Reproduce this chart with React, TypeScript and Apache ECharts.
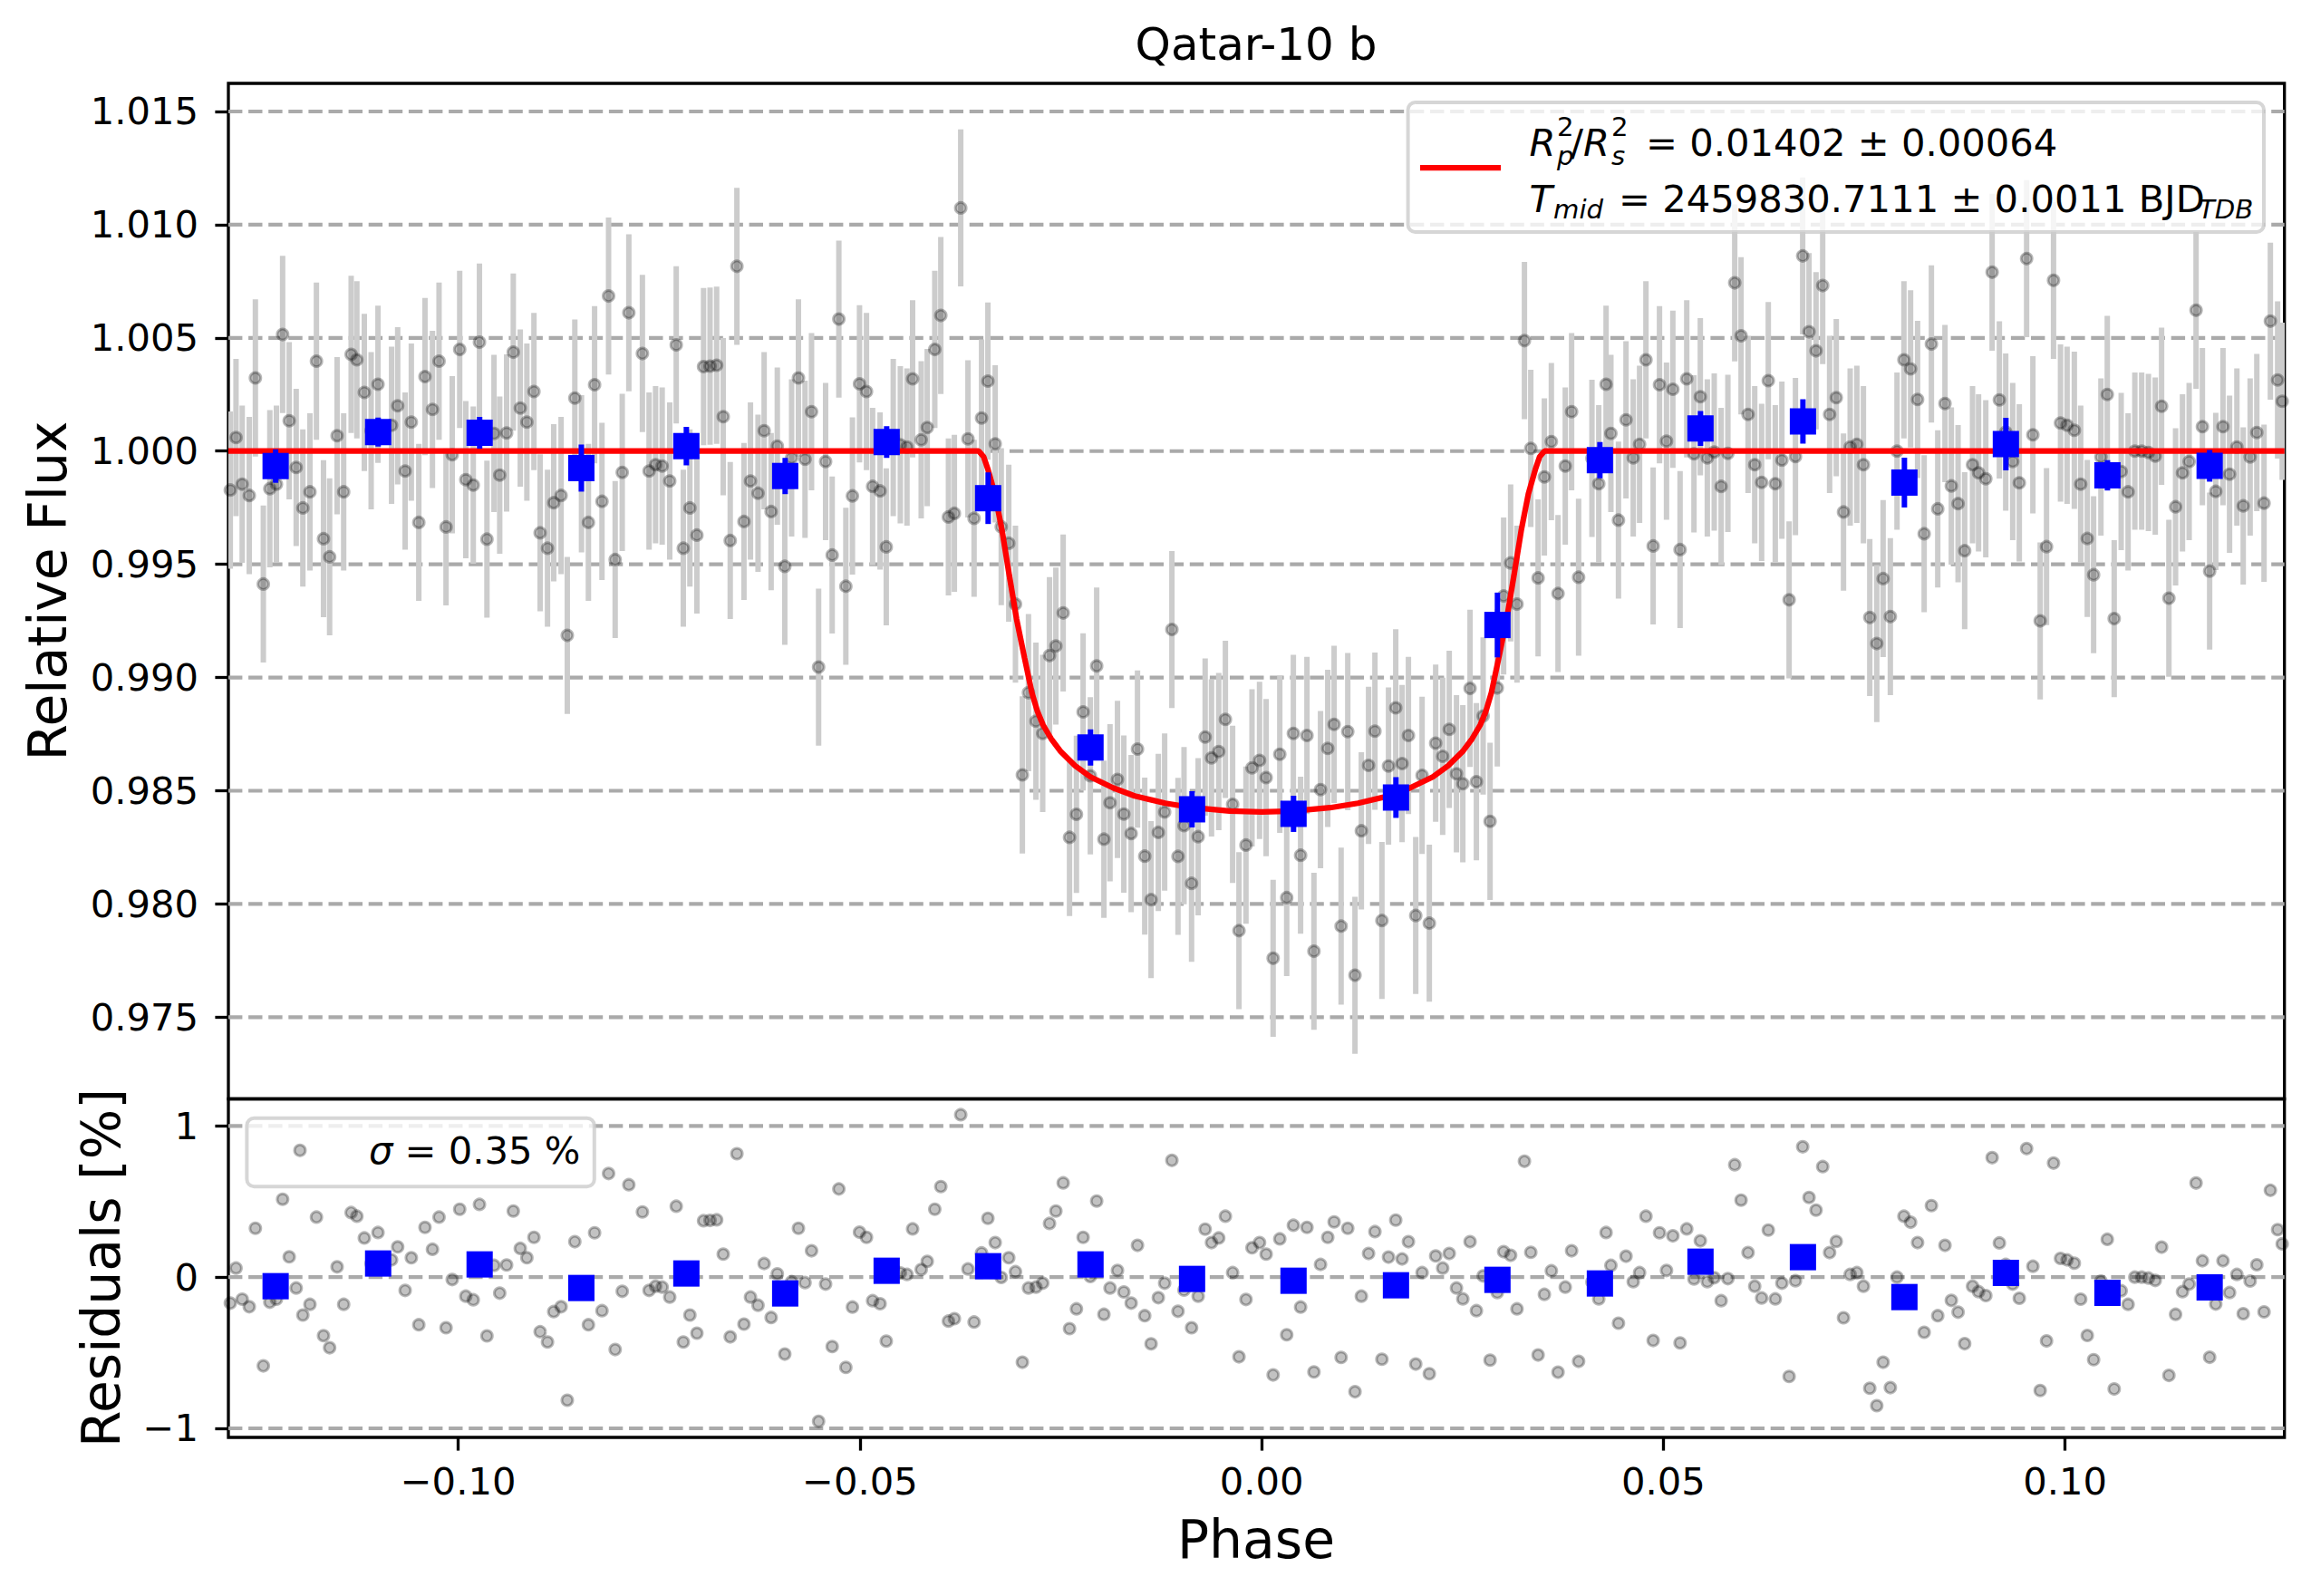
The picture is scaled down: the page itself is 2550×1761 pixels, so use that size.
import { useEffect, useRef } from 'react';
import * as echarts from 'echarts';

// unbinned light curve: phase, relative flux, residuals [%]
const phase = [
  -0.12836, -0.12765, -0.12688, -0.12600, -0.12524, -0.12425, -0.12344, -0.12262, -0.12185, -0.12103,
  -0.12016, -0.11933, -0.11845, -0.11764, -0.11676, -0.11600, -0.11507, -0.11425, -0.11332, -0.11261,
  -0.11168, -0.11083, -0.10998, -0.10829, -0.10753, -0.10660, -0.10583, -0.10490, -0.10413, -0.10320,
  -0.10238, -0.10151, -0.10074, -0.09981, -0.09905, -0.09812, -0.09735, -0.09642, -0.09554, -0.09483,
  -0.09397, -0.09314, -0.09227, -0.09145, -0.09057, -0.08980, -0.08888, -0.08811, -0.08719, -0.08642,
  -0.08548, -0.08465, -0.08379, -0.08302, -0.08210, -0.08128, -0.08046, -0.07958, -0.07876, -0.07707,
  -0.07624, -0.07543, -0.07461, -0.07367, -0.07286, -0.07198, -0.07116, -0.07029, -0.06946, -0.06865,
  -0.06783, -0.06701, -0.06614, -0.06531, -0.06443, -0.06362, -0.06268, -0.06192, -0.06105, -0.06028,
  -0.05935, -0.05850, -0.05765, -0.05683, -0.05602, -0.05514, -0.05427, -0.05345, -0.05262, -0.05175,
  -0.05093, -0.05005, -0.04918, -0.04842, -0.04749, -0.04672, -0.04585, -0.04497, -0.04414, -0.04344,
  -0.04237, -0.04162, -0.04068, -0.03993, -0.03898, -0.03824, -0.03745, -0.03655, -0.03579, -0.03486,
  -0.03407, -0.03316, -0.03241, -0.03147, -0.03064, -0.02978, -0.02902, -0.02809, -0.02725, -0.02640,
  -0.02561, -0.02470, -0.02391, -0.02305, -0.02222, -0.02132, -0.02053, -0.01963, -0.01887, -0.01794,
  -0.01715, -0.01624, -0.01545, -0.01455, -0.01376, -0.01286, -0.01207, -0.01117, -0.01041, -0.00966,
  -0.00872, -0.00790, -0.00703, -0.00624, -0.00534, -0.00451, -0.00361, -0.00282, -0.00195, -0.00120,
  -0.00026, 0.00056, 0.00143, 0.00226, 0.00312, 0.00395, 0.00485, 0.00564, 0.00651, 0.00733,
  0.00823, 0.00902, 0.00989, 0.01072, 0.01162, 0.01241, 0.01331, 0.01410, 0.01497, 0.01579,
  0.01669, 0.01748, 0.01827, 0.01918, 0.01997, 0.02087, 0.02166, 0.02253, 0.02335, 0.02425,
  0.02504, 0.02594, 0.02673, 0.02757, 0.02843, 0.02933, 0.03012, 0.03099, 0.03178, 0.03271,
  0.03350, 0.03441, 0.03519, 0.03606, 0.03689, 0.03779, 0.03858, 0.03945, 0.04111, 0.04196,
  0.04287, 0.04347, 0.04441, 0.04535, 0.04625, 0.04704, 0.04783, 0.04873, 0.04952, 0.05039,
  0.05118, 0.05208, 0.05291, 0.05381, 0.05460, 0.05547, 0.05633, 0.05719, 0.05803, 0.05888,
  0.05967, 0.06054, 0.06137, 0.06223, 0.06306, 0.06393, 0.06475, 0.06565, 0.06644, 0.06734,
  0.06813, 0.06900, 0.06983, 0.07069, 0.07152, 0.07242, 0.07325, 0.07408, 0.07490, 0.07569,
  0.07656, 0.07735, 0.07825, 0.07908, 0.07994, 0.08077, 0.08164, 0.08246, 0.08336, 0.08415,
  0.08505, 0.08584, 0.08668, 0.08750, 0.08848, 0.08923, 0.09013, 0.09092, 0.09182, 0.09261,
  0.09348, 0.09430, 0.09521, 0.09599, 0.09690, 0.09769, 0.09856, 0.09943, 0.10025, 0.10115,
  0.10194, 0.10276, 0.10355, 0.10446, 0.10525, 0.10611, 0.10698, 0.10784, 0.10868, 0.10953,
  0.11037, 0.11122, 0.11201, 0.11292, 0.11375, 0.11461, 0.11544, 0.11630, 0.11709, 0.11799,
  0.11875, 0.11965, 0.12047, 0.12138, 0.12217, 0.12303, 0.12386, 0.12476, 0.12555, 0.12645,
  0.12702,
];

const flux = [
  0.99828, 1.00060, 0.99854, 0.99804, 1.00323, 0.99413, 0.99834, 0.99854, 1.00515, 1.00134,
  0.99928, 0.99749, 0.99820, 1.00397, 0.99613, 0.99533, 1.00068, 0.99820, 1.00427, 1.00403,
  1.00259, 1.00090, 1.00295, 1.00114, 1.00200, 0.99912, 1.00128, 0.99685, 1.00329, 1.00184,
  1.00397, 0.99665, 0.99984, 1.00449, 0.99874, 0.99850, 1.00481, 0.99611, 1.00078, 0.99894,
  1.00080, 1.00437, 1.00190, 1.00128, 1.00263, 0.99639, 0.99571, 0.99772, 0.99804, 0.99186,
  1.00234, 0.99900, 0.99685, 1.00293, 0.99778, 1.00685, 0.99521, 0.99906, 1.00611, 1.00431,
  0.99912, 0.99940, 0.99934, 0.99868, 1.00469, 0.99571, 0.99749, 0.99629, 1.00373, 1.00375,
  1.00379, 1.00152, 0.99605, 1.00816, 0.99689, 0.99868, 0.99814, 1.00090, 0.99733, 1.00022,
  0.99491, 0.99970, 1.00323, 0.99964, 1.00174, 0.99046, 0.99954, 0.99541, 1.00583, 0.99403,
  0.99802, 1.00297, 1.00263, 0.99844, 0.99824, 0.99577, 1.00060, 1.00028, 1.00018, 1.00319,
  1.00050, 1.00104, 1.00449, 1.00599, 0.99709, 0.99725, 1.01074, 1.00054, 0.99703, 1.00146,
  1.00309, 1.00032, 0.99666, 0.99593, 0.99324, 0.98570, 0.98933, 0.98807, 0.98753, 0.99097,
  0.99139, 0.99285, 0.98294, 0.98396, 0.98848, 0.98566, 0.99051, 0.98286, 0.98447, 0.98550,
  0.98397, 0.98311, 0.98684, 0.98211, 0.98019, 0.98316, 0.98406, 0.99212, 0.98210, 0.98346,
  0.98091, 0.98297, 0.98737, 0.98645, 0.98673, 0.98815, 0.98440, 0.97882, 0.98260, 0.98601,
  0.98634, 0.98558, 0.97760, 0.98661, 0.98028, 0.98753, 0.98215, 0.98744, 0.97791, 0.98505,
  0.98687, 0.98793, 0.97902, 0.98761, 0.97685, 0.98323, 0.98612, 0.98763, 0.97927, 0.98609,
  0.98866, 0.98620, 0.98744, 0.97949, 0.98568, 0.97915, 0.98710, 0.98652, 0.98771, 0.98575,
  0.98531, 0.98952, 0.98540, 0.98830, 0.98365, 0.98954, 0.99360, 0.99506, 0.99324, 1.00488,
  1.00012, 0.99440, 0.99886, 1.00042, 0.99371, 0.99934, 1.00174, 0.99443, 0.99968, 0.99856,
  1.00295, 1.00078, 0.99695, 1.00138, 0.99970, 1.00030, 1.00403, 0.99581, 1.00293, 1.00044,
  1.00273, 0.99565, 1.00319, 0.99988, 1.00240, 0.99970, 0.99996, 0.99844, 0.99990, 1.00743,
  1.00509, 1.00162, 0.99940, 0.99862, 1.00311, 0.99856, 0.99960, 0.99343, 0.99976, 1.00862,
  1.00527, 1.00443, 1.00731, 1.00162, 1.00236, 0.99731, 1.00018, 1.00030, 0.99940, 0.99265,
  0.99150, 0.99437, 0.99269, 1.00000, 1.00403, 1.00363, 1.00228, 0.99635, 1.00473, 0.99745,
  1.00210, 0.99846, 0.99768, 0.99560, 0.99940, 0.99904, 0.99878, 1.00790, 1.00226, 1.00084,
  0.99954, 0.99860, 1.00850, 1.00072, 0.99250, 0.99578, 1.00754, 1.00124, 1.00114, 1.00092,
  0.99854, 0.99614, 0.99454, 0.99974, 1.00250, 0.99260, 0.99910, 0.99820, 1.00000, 1.00000,
  0.99994, 0.99978, 1.00198, 0.99350, 0.99754, 0.99904, 0.99954, 1.00622, 1.00108, 0.99470,
  0.99822, 1.00108, 0.99898, 1.00018, 0.99758, 0.99974, 1.00082, 0.99770, 1.00574, 1.00314,
  1.00220,
];

const residual = [
  -0.172, 0.060, -0.146, -0.196, 0.323, -0.587, -0.166, -0.146, 0.515, 0.134,
  -0.072, -0.251, -0.180, 0.397, -0.387, -0.467, 0.068, -0.180, 0.427, 0.403,
  0.259, 0.090, 0.295, 0.114, 0.200, -0.088, 0.128, -0.315, 0.329, 0.184,
  0.397, -0.335, -0.016, 0.449, -0.126, -0.150, 0.481, -0.389, 0.078, -0.106,
  0.080, 0.437, 0.190, 0.128, 0.263, -0.361, -0.429, -0.228, -0.196, -0.814,
  0.234, -0.100, -0.315, 0.293, -0.222, 0.685, -0.479, -0.094, 0.611, 0.431,
  -0.088, -0.060, -0.066, -0.132, 0.469, -0.429, -0.251, -0.371, 0.373, 0.375,
  0.379, 0.152, -0.395, 0.816, -0.311, -0.132, -0.186, 0.090, -0.267, 0.022,
  -0.509, -0.030, 0.323, -0.036, 0.174, -0.954, -0.046, -0.459, 0.583, -0.597,
  -0.198, 0.297, 0.263, -0.156, -0.176, -0.423, 0.060, 0.028, 0.018, 0.319,
  0.050, 0.104, 0.449, 0.599, -0.291, -0.275, 1.074, 0.054, -0.297, 0.160,
  0.389, 0.228, -0.002, 0.128, 0.036, -0.563, -0.072, -0.066, -0.040, 0.355,
  0.437, 0.623, -0.341, -0.210, 0.263, 0.004, 0.503, -0.246, -0.072, 0.044,
  -0.098, -0.172, 0.210, -0.255, -0.441, -0.136, -0.040, 0.772, -0.226, -0.086,
  -0.335, -0.126, 0.317, 0.228, 0.259, 0.403, 0.030, -0.527, -0.148, 0.194,
  0.228, 0.152, -0.647, 0.253, -0.381, 0.343, -0.198, 0.329, -0.627, 0.084,
  0.263, 0.365, -0.531, 0.323, -0.758, -0.126, 0.156, 0.301, -0.543, 0.132,
  0.377, 0.120, 0.234, -0.575, 0.030, -0.639, 0.140, 0.060, 0.156, -0.072,
  -0.144, 0.234, -0.222, 0.008, -0.549, -0.102, 0.168, 0.144, -0.210, 0.766,
  0.164, -0.515, -0.114, 0.042, -0.629, -0.066, 0.174, -0.557, -0.032, -0.144,
  0.295, 0.078, -0.305, 0.138, -0.030, 0.030, 0.403, -0.419, 0.293, 0.044,
  0.273, -0.435, 0.319, -0.012, 0.240, -0.030, -0.004, -0.156, -0.010, 0.743,
  0.509, 0.162, -0.060, -0.138, 0.311, -0.144, -0.040, -0.657, -0.024, 0.862,
  0.527, 0.443, 0.731, 0.162, 0.236, -0.269, 0.018, 0.030, -0.060, -0.735,
  -0.850, -0.563, -0.731, 0.000, 0.403, 0.363, 0.228, -0.365, 0.473, -0.255,
  0.210, -0.154, -0.232, -0.440, -0.060, -0.096, -0.122, 0.790, 0.226, 0.084,
  -0.046, -0.140, 0.850, 0.072, -0.750, -0.422, 0.754, 0.124, 0.114, 0.092,
  -0.146, -0.386, -0.546, -0.026, 0.250, -0.740, -0.090, -0.180, 0.000, 0.000,
  -0.006, -0.022, 0.198, -0.650, -0.246, -0.096, -0.046, 0.622, 0.108, -0.530,
  -0.178, 0.108, -0.102, 0.018, -0.242, -0.026, 0.082, -0.230, 0.574, 0.314,
  0.220,
];

// every point carries about the same photometric error
const fluxErr = 0.00347;

// binned points
const binPhase = [
  -0.12272, -0.10996, -0.09733, -0.08467, -0.07160, -0.05930, -0.04667, -0.03404, -0.02130, -0.00866,
  0.00397, 0.01672, 0.02935, 0.04210, 0.05462, 0.06737, 0.08000, 0.09263, 0.10527, 0.11799,
];
const binFlux = [
  0.99934, 1.00084, 1.00081, 0.99925, 1.00022, 0.99890, 1.00040, 0.99792, 0.98691, 0.98418,
  0.98398, 0.98470, 0.99232, 0.99960, 1.00100, 1.00131, 0.99861, 1.00031, 0.99893, 0.99935,
];
const binFluxErr = [
  0.00074, 0.00064, 0.00070, 0.00104, 0.00085, 0.00080, 0.00070, 0.00114, 0.00080, 0.00080,
  0.00080, 0.00090, 0.00143, 0.00080, 0.00077, 0.00098, 0.00110, 0.00116, 0.00067, 0.00070,
];
const binResidual = [
  -0.060, 0.090, 0.084, -0.072, 0.024, -0.108, 0.042, 0.072, 0.084, -0.012,
  -0.024, -0.054, -0.018, -0.042, 0.102, 0.132, -0.132, 0.028, -0.104, -0.068,
];

// transit model curve
const modelPhase = [
  -0.1286, -0.0352, -0.0346, -0.0341, -0.0332, -0.0323, -0.0314, -0.0305, -0.0295, -0.0286,
  -0.0279, -0.0272, -0.0262, -0.0250, -0.0232, -0.0213, -0.0185, -0.0158, -0.0120, -0.0085,
  -0.0040, 0.0000, 0.0040, 0.0085, 0.0120, 0.0158, 0.0185, 0.0213, 0.0232, 0.0250,
  0.0262, 0.0272, 0.0279, 0.0286, 0.0295, 0.0305, 0.0314, 0.0323, 0.0332, 0.0341,
  0.0346, 0.0352, 0.1273,
];
const modelFlux = [
  1.0, 1.0, 0.99975, 0.99923, 0.99811, 0.99648, 0.99450, 0.99258, 0.99085, 0.98934,
  0.98850, 0.98790, 0.98730, 0.98673, 0.98610, 0.98561, 0.98513, 0.98477, 0.98445, 0.98425,
  0.98410, 0.98406, 0.98410, 0.98425, 0.98445, 0.98477, 0.98513, 0.98561, 0.98610, 0.98673,
  0.98730, 0.98790, 0.98850, 0.98934, 0.99085, 0.99258, 0.99450, 0.99648, 0.99811, 0.99923,
  0.99975, 1.0, 1.0,
];

const xTicks = [-0.1, -0.05, 0, 0.05, 0.1];
const fluxTicks = [0.975, 0.98, 0.985, 0.99, 0.995, 1.0, 1.005, 1.01, 1.015];
const residualTicks = [-1, 0, 1];

const X_MIN = -0.1286;
const X_MAX = 0.1273;
const FLUX_MIN = 0.97139;
const FLUX_MAX = 1.01624;
const RES_MIN = -1.06;
const RES_MAX = 1.1786;

const FONT = 'DejaVu Sans';
const TICK_SIZE = 41.7;
const LABEL_SIZE = 58.3;

const PLOT_LEFT = 252;
const PLOT_WIDTH = 2268.7;
const TOP_Y = 92;
const SPLIT_Y = 1212.5;
const BOTTOM_Y = 1586;

const minus = (v: number, digits: number) => (v < 0 ? '\u2212' : '') + Math.abs(v).toFixed(digits);

const pointStyle = {color: 'rgba(0,0,0,0.24)', borderColor: 'rgba(0,0,0,0.28)', borderWidth: 3, opacity: 1};
const tickStyle = {show: true, length: 14.6, lineStyle: {color: '#000', width: 3.3}};
const labelStyle = {fontFamily: FONT, fontSize: TICK_SIZE, color: '#000'};

const errorBar = (color: string, width: number) => (_params: any, api: any) => {
    const x = api.value(0);
    const y = api.value(1);
    const e = api.value(2);
    const hi = api.coord([x, y + e]);
    const lo = api.coord([x, y - e]);
    return {
        type: 'line',
        shape: {x1: hi[0], y1: hi[1], x2: lo[0], y2: lo[1]},
        style: {stroke: color, lineWidth: width},
    };
};

// dashed horizontal grid line at one tick value
const gridLine = (_params: any, api: any) => {
    const v = api.value(1);
    const a = api.coord([X_MIN, v]);
    const b = api.coord([X_MAX, v]);
    return {
        type: 'line',
        shape: {x1: a[0], y1: a[1], x2: b[0], y2: b[1]},
        style: {stroke: '#aaaaaa', lineWidth: 4.2, lineDash: [15.4, 6.7]},
    };
};

const text = (str: string, x: number, y: number, size: number, extra: any = {}) => ({
    type: 'text',
    x, y,
    z: 110,
    rotation: extra.rotation || 0,
    style: {
        text: str,
        fontFamily: FONT,
        fontSize: size,
        fontStyle: extra.italic ? 'italic' : 'normal',
        fill: '#000',
        align: extra.align || 'left',
        verticalAlign: 'middle',
        textAlign: extra.align || 'left',
        textVerticalAlign: 'middle',
    },
});

export default function App() {
    const ref = useRef<HTMLDivElement | null>(null);

    useEffect(() => {
        if (!ref.current) return;
        const chart = echarts.init(ref.current, null, {renderer: 'svg'});
        const SUB = TICK_SIZE * 0.7;
        const hidden = {show: false, onZero: false};

        chart.setOption({
            animation: false,
            backgroundColor: '#fff',
            grid: [
                {left: PLOT_LEFT, top: TOP_Y, width: PLOT_WIDTH, height: SPLIT_Y - TOP_Y, show: true,
                    borderColor: '#000', borderWidth: 3.3, backgroundColor: 'transparent', containLabel: false, outerBoundsMode: 'none'},
                {left: PLOT_LEFT, top: SPLIT_Y, width: PLOT_WIDTH, height: BOTTOM_Y - SPLIT_Y, show: true,
                    borderColor: '#000', borderWidth: 3.3, backgroundColor: 'transparent', containLabel: false, outerBoundsMode: 'none'},
            ],
            xAxis: [
                {gridIndex: 0, type: 'value', min: X_MIN, max: X_MAX, position: 'bottom',
                    axisLine: hidden, axisTick: {show: false}, axisLabel: {show: false}, splitLine: {show: false}},
                {gridIndex: 1, type: 'value', min: X_MIN, max: X_MAX, position: 'bottom',
                    axisLine: hidden, splitLine: {show: false},
                    axisTick: {...tickStyle, customValues: xTicks},
                    axisLabel: {...labelStyle, margin: 27, customValues: xTicks, formatter: (v: number) => minus(v, 2)}},
            ],
            yAxis: [
                {gridIndex: 0, type: 'value', min: FLUX_MIN, max: FLUX_MAX, position: 'left',
                    axisLine: hidden, splitLine: {show: false},
                    axisTick: {...tickStyle, customValues: fluxTicks},
                    axisLabel: {...labelStyle, margin: 33, customValues: fluxTicks, formatter: (v: number) => v.toFixed(3)}},
                {gridIndex: 1, type: 'value', min: RES_MIN, max: RES_MAX, position: 'left',
                    axisLine: hidden, splitLine: {show: false},
                    axisTick: {...tickStyle, customValues: residualTicks},
                    axisLabel: {...labelStyle, margin: 33, customValues: residualTicks, formatter: (v: number) => minus(v, 0)}},
            ],
            series: [
                {type: 'custom', xAxisIndex: 0, yAxisIndex: 0, z: 1, silent: true, clip: true,
                    renderItem: gridLine, encode: {x: 0, y: 1},
                    data: fluxTicks.map(v => [X_MIN, v])},
                {type: 'custom', xAxisIndex: 0, yAxisIndex: 0, z: 2, clip: true, silent: true,
                    renderItem: errorBar('#cccccc', 6),
                    encode: {x: 0, y: 1},
                    data: phase.map((p, i) => [p, flux[i], fluxErr])},
                {type: 'scatter', xAxisIndex: 0, yAxisIndex: 0, z: 3, symbol: 'circle', symbolSize: 12,
                    itemStyle: pointStyle, silent: true,
                    data: phase.map((p, i) => [p, flux[i]])},
                {type: 'line', xAxisIndex: 0, yAxisIndex: 0, z: 4, symbol: 'none', silent: true, clip: true,
                    lineStyle: {color: '#ff0000', width: 6.25},
                    data: modelPhase.map((p, i) => [p, modelFlux[i]])},
                {type: 'custom', xAxisIndex: 0, yAxisIndex: 0, z: 5, clip: true, silent: true,
                    renderItem: errorBar('#0000ff', 6),
                    encode: {x: 0, y: 1},
                    data: binPhase.map((p, i) => [p, binFlux[i], binFluxErr[i]])},
                {type: 'scatter', xAxisIndex: 0, yAxisIndex: 0, z: 6, symbol: 'rect', symbolSize: 29,
                    itemStyle: {color: '#0000ff', opacity: 1}, silent: true,
                    data: binPhase.map((p, i) => [p, binFlux[i]])},

                {type: 'custom', xAxisIndex: 1, yAxisIndex: 1, z: 1, silent: true, clip: true,
                    renderItem: gridLine, encode: {x: 0, y: 1},
                    data: residualTicks.map(v => [X_MIN, v])},
                {type: 'scatter', xAxisIndex: 1, yAxisIndex: 1, z: 3, symbol: 'circle', symbolSize: 12,
                    itemStyle: pointStyle, silent: true,
                    data: phase.map((p, i) => [p, residual[i]])},
                {type: 'scatter', xAxisIndex: 1, yAxisIndex: 1, z: 6, symbol: 'rect', symbolSize: 29,
                    itemStyle: {color: '#0000ff', opacity: 1}, silent: true,
                    data: binPhase.map((p, i) => [p, binResidual[i]])},
            ],
            graphic: [
                // fit legend
                {type: 'rect', z: 100, shape: {x: 1553.6, y: 113, width: 944.4, height: 143, r: 8},
                    style: {fill: 'rgba(255,255,255,0.8)', stroke: 'rgba(204,204,204,0.8)', lineWidth: 4}},
                {type: 'line', z: 105, shape: {x1: 1567, y1: 185, x2: 1656, y2: 185},
                    style: {stroke: '#ff0000', lineWidth: 6.25}},
                text('R', 1687.5, 157, TICK_SIZE, {italic: true}),
                text('2', 1718, 140, SUB),
                text('p', 1718, 172, SUB, {italic: true}),
                text('/', 1733, 157, TICK_SIZE),
                text('R', 1747, 157, TICK_SIZE, {italic: true}),
                text('2', 1778, 140, SUB),
                text('s', 1778, 172, SUB, {italic: true}),
                text('= 0.01402 \u00b1 0.00064', 1816, 157, TICK_SIZE),
                text('T', 1687.5, 219, TICK_SIZE, {italic: true}),
                text('mid', 1714, 231, SUB, {italic: true}),
                text('= 2459830.7111 \u00b1 0.0011 BJD', 1786, 219, TICK_SIZE),
                text('TDB', 2426, 231, SUB, {italic: true}),

                // residual legend
                {type: 'rect', z: 100, shape: {x: 272.4, y: 1233.7, width: 383.4, height: 75.6, r: 8},
                    style: {fill: 'rgba(255,255,255,0.8)', stroke: 'rgba(204,204,204,0.8)', lineWidth: 4}},
                {type: 'circle', z: 105, shape: {cx: 331, cy: 1269.3, r: 6},
                    style: {fill: 'rgba(0,0,0,0.24)', stroke: 'rgba(0,0,0,0.28)', lineWidth: 3}},
                text('\u03c3', 407, 1269, TICK_SIZE, {italic: true}),
                text('= 0.35 %', 446.5, 1269, TICK_SIZE),

                // titles
                text('Qatar-10 b', 1386, 49, 50, {align: 'center'}),
                text('Relative Flux', 53, 652, LABEL_SIZE, {align: 'center', rotation: Math.PI / 2}),
                text('Residuals [%]', 112, 1399, LABEL_SIZE, {align: 'center', rotation: Math.PI / 2}),
                text('Phase', 1386, 1699, LABEL_SIZE, {align: 'center'}),
            ],
        });

        return () => chart.dispose();
    }, []);

    return <div ref={ref} style={{position: 'fixed', left: 0, top: 0, width: 2550, height: 1761, background: '#fff'}}/>;
}
